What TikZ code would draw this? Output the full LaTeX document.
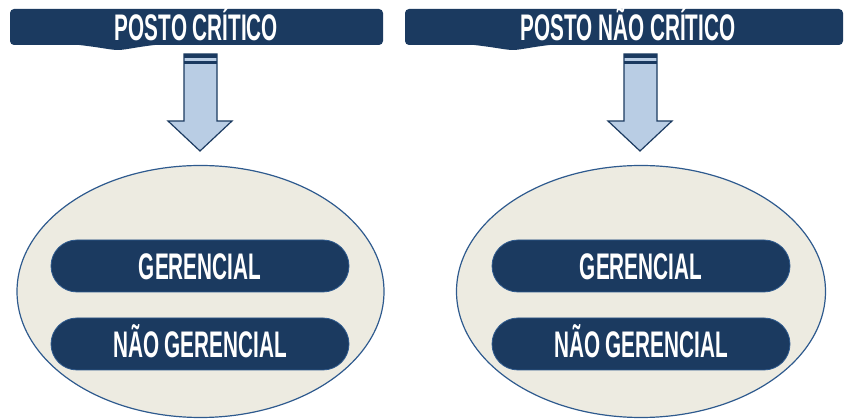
\documentclass[tikz,border=0pt]{standalone}
\usepackage{fontspec}
\setmainfont[FakeStretch=0.56]{Liberation Sans}
\definecolor{navy}{HTML}{1B3A60}
\definecolor{lightblue}{HTML}{B9CDE4}
\definecolor{cream}{HTML}{EDEBE1}
\definecolor{rim}{HTML}{2E5A8E}
\begin{document}
\begin{tikzpicture}[x=1pt,y=-1pt,
  banner/.style={fill=navy,draw=none,rounded corners=4pt},
  bannertext/.style={text=white,font=\bfseries\fontsize{37}{37}\selectfont,inner sep=0pt},
  oval/.style={fill=cream,draw=rim,line width=1.2pt},
  pill/.style={fill=navy,draw=rim,line width=0.8pt,rounded corners=26pt},
  pilltext/.style={text=white,font=\bfseries\fontsize{37}{37}\selectfont,inner sep=0pt},
  arrowbody/.style={fill=lightblue,draw=navy,line width=1.2pt,line join=miter}]
\useasboundingbox (0,0) rectangle (844,419);
% left banner
\fill[navy] (70,44) .. controls (100,47) and (110,50) .. (118,50) .. controls (126,50) and (140,46) .. (165,44) -- cycle;
\draw[banner] (10,9) rectangle (383,45);
\node[bannertext,anchor=base] (t1) at (196.5,40.5) {POSTO CRÍTICO};
% right banner
\fill[navy] (465,44) .. controls (495,47) and (505,50) .. (513,50) .. controls (521,50) and (535,46) .. (560,44) -- cycle;
\draw[banner] (405,9) rectangle (843,45);
\node[bannertext,anchor=base] (t2) at (628,40.5) {POSTO NÃO CRÍTICO};
% left arrow
\draw[arrowbody] (184,54) -- (217,54) -- (217,121) -- (232,121) -- (200,151) -- (168,121) -- (184,121) -- cycle;
\fill[navy] (184,54) rectangle (217,58.5);
\fill[navy] (184,61) rectangle (217,64);
\coordinate (a1) at (200,151);
% right arrow
\draw[arrowbody] (624,54) -- (657,54) -- (657,121) -- (672,121) -- (640,151) -- (608,121) -- (624,121) -- cycle;
\fill[navy] (624,54) rectangle (657,58.5);
\fill[navy] (624,61) rectangle (657,64);
\coordinate (a2) at (640,151);
% ovals
\draw[oval] (200.5,291.5) ellipse [x radius=183.5, y radius=126];
\draw[oval] (641,291.5) ellipse [x radius=184.5, y radius=126];
% pills left
\draw[pill] (51,240) rectangle (349,292);
\node[pilltext,anchor=base] (g1) at (200,279.5) {GERENCIAL};
\draw[pill] (51,318) rectangle (349,370);
\node[pilltext,anchor=base] (n1) at (200,357.5) {NÃO GERENCIAL};
% pills right
\draw[pill] (492,240) rectangle (790,292);
\node[pilltext,anchor=base] (g2) at (641,279.5) {GERENCIAL};
\draw[pill] (492,318) rectangle (790,370);
\node[pilltext,anchor=base] (n2) at (641,357.5) {NÃO GERENCIAL};
\end{tikzpicture}
\end{document}
